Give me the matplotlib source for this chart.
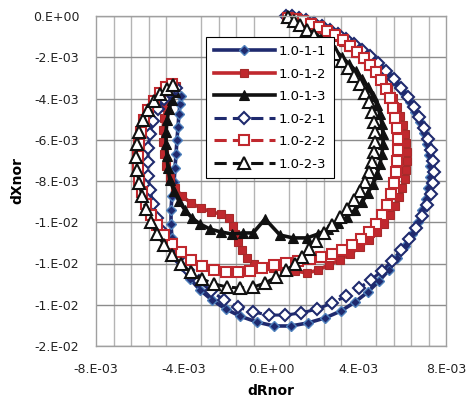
import matplotlib
matplotlib.use("Agg")
import matplotlib.pyplot as plt
import numpy as np

# ---------------- data (units of 1e-3) ----------------
labels = ["1.0-1-1", "1.0-1-2", "1.0-1-3", "1.0-2-1", "1.0-2-2", "1.0-2-3"]

x_111 = [0.64, 0.87, 1.14, 1.46, 1.78, 2.15, 2.51, 2.88, 3.25, 3.61, 3.98, 4.34, 4.71, 5.07, 5.44, 5.76,
         6.08, 6.35, 6.58, 6.81, 6.99, 7.13, 7.22, 7.27, 7.27, 7.18, 7.09, 6.90, 6.72, 6.45, 6.13, 5.76,
         5.39, 4.94, 4.43, 3.84, 3.20, 2.47, 1.69, 0.91, 0.14, -0.64, -1.42, -2.06, -2.70, -3.25, -3.70,
         -4.07, -4.34, -4.53, -4.57, -4.57, -4.53, -4.43, -4.39, -4.34, -4.30, -4.25, -4.21, -4.16, -4.11]
y_111 = [0.0, 0.0, -0.10, -0.19, -0.29, -0.44, -0.63, -0.82, -1.02, -1.26, -1.55, -1.84, -2.18, -2.52, -2.91, -3.30,
         -3.73, -4.17, -4.65, -5.14, -5.67, -6.21, -6.74, -7.27, -7.81, -8.34, -8.87, -9.41, -9.99, -10.57, -11.15, -11.73,
         -12.32, -12.85, -13.38, -13.87, -14.30, -14.64, -14.88, -15.03, -15.03, -14.84, -14.55, -14.21, -13.77, -13.28, -12.75,
         -12.12, -11.44, -10.76, -10.08, -9.41, -8.73, -8.05, -7.37, -6.69, -6.01, -5.38, -4.75, -4.27, -3.88]

x_112 = [0.78, 1.05, 1.37, 1.69, 2.01, 2.33, 2.65, 2.97, 3.29, 3.61, 3.93, 4.25, 4.57, 4.85, 5.12, 5.35,
         5.58, 5.76, 5.90, 6.03, 6.13, 6.17, 6.22, 6.22, 6.17, 6.13, 5.99, 5.85, 5.67, 5.44, 5.17, 4.85,
         4.48, 4.07, 3.61, 3.15, 2.65, 2.15, 1.65, 1.10, 0.59, 0.09, -0.41, -0.78, -1.10, -1.33, -1.51,
         -1.65, -1.74, -1.92, -2.29, -2.74, -3.20, -3.66, -4.07, -4.39, -4.62, -4.80, -4.89, -4.94, -4.94,
         -4.89, -4.80, -4.66, -4.48, -4.34]
y_112 = [0.0, -0.10, -0.19, -0.34, -0.48, -0.63, -0.82, -1.02, -1.26, -1.50, -1.79, -2.08, -2.42, -2.76, -3.15, -3.54,
         -3.98, -4.41, -4.85, -5.28, -5.72, -6.16, -6.59, -7.03, -7.47, -7.90, -8.34, -8.78, -9.21, -9.65, -10.08, -10.47,
         -10.86, -11.20, -11.54, -11.83, -12.07, -12.32, -12.46, -12.36, -12.27, -12.22, -12.17, -12.02, -11.73, -11.35, -10.96,
         -10.57, -10.18, -9.79, -9.60, -9.50, -9.31, -9.07, -8.73, -8.34, -7.85, -7.27, -6.69, -6.11, -5.53,
         -4.95, -4.41, -3.98, -3.64, -3.39]

x_113 = [0.73, 1.01, 1.33, 1.65, 1.97, 2.29, 2.61, 2.93, 3.25, 3.57, 3.89, 4.16, 4.43, 4.66, 4.85, 4.98,
         5.07, 5.12, 5.12, 5.07, 4.98, 4.85, 4.66, 4.43, 4.16, 3.84, 3.47, 3.06, 2.61, 2.15, 1.65, 1.01,
         0.41, -0.27, -0.82, -1.28, -1.78, -2.29, -2.79, -3.25, -3.61, -3.93, -4.21, -4.43, -4.62, -4.71,
         -4.75, -4.80, -4.80, -4.75, -4.66, -4.53, -4.39]
y_113 = [0.0, -0.15, -0.34, -0.58, -0.82, -1.07, -1.36, -1.65, -1.99, -2.33, -2.67, -3.05, -3.44, -3.88, -4.32, -4.75,
         -5.24, -5.72, -6.21, -6.69, -7.18, -7.66, -8.15, -8.58, -9.02, -9.41, -9.75, -10.04, -10.33, -10.57, -10.76, -10.76,
         -10.62, -9.84, -10.52, -10.52, -10.57, -10.47, -10.33, -10.08, -9.79, -9.41, -8.97, -8.48, -7.95, -7.37,
         -6.79, -6.21, -5.62, -5.04, -4.51, -4.07, -3.68]

x_121 = [0.69, 0.96, 1.28, 1.60, 1.97, 2.33, 2.70, 3.06, 3.43, 3.79, 4.16, 4.53, 4.89, 5.26, 5.62, 5.94,
         6.26, 6.54, 6.77, 6.99, 7.18, 7.31, 7.41, 7.45, 7.41, 7.31, 7.13, 6.90, 6.63, 6.31, 5.94, 5.53,
         5.07, 4.57, 4.02, 3.43, 2.79, 2.10, 1.37, 0.64, -0.09, -0.82, -1.51, -2.15, -2.74, -3.29, -3.79,
         -4.25, -4.62, -4.94, -5.21, -5.39, -5.53, -5.62, -5.62, -5.62, -5.53, -5.39, -5.17, -4.89, -4.62, -4.34]
y_121 = [0.0, 0.0, -0.10, -0.19, -0.34, -0.48, -0.68, -0.87, -1.12, -1.36, -1.65, -1.94, -2.28, -2.67, -3.05, -3.49,
         -3.93, -4.41, -4.90, -5.43, -5.96, -6.50, -7.03, -7.56, -8.10, -8.63, -9.16, -9.70, -10.28, -10.81, -11.35, -11.88,
         -12.36, -12.80, -13.19, -13.58, -13.92, -14.21, -14.40, -14.50, -14.50, -14.35, -14.11, -13.77, -13.33, -12.85, -12.32,
         -11.73, -11.10, -10.47, -9.79, -9.12, -8.44, -7.76, -7.08, -6.40, -5.72, -5.09, -4.51, -4.02, -3.68, -3.49]

x_122 = [0.78, 1.14, 1.46, 1.83, 2.19, 2.56, 2.93, 3.29, 3.61, 3.93, 4.25, 4.53, 4.80, 5.03, 5.26, 5.44,
         5.58, 5.67, 5.76, 5.81, 5.81, 5.76, 5.71, 5.62, 5.49, 5.30, 5.07, 4.80, 4.48, 4.11, 3.70, 3.25,
         2.79, 2.29, 1.78, 1.23, 0.69, 0.14, -0.41, -0.96, -1.51, -2.06, -2.61, -3.15, -3.66, -4.11, -4.53,
         -4.89, -5.21, -5.49, -5.71, -5.90, -6.03, -6.08, -6.08, -6.03, -5.94, -5.81, -5.62, -5.35, -5.07,
         -4.80, -4.53]
y_122 = [-0.10, -0.15, -0.24, -0.39, -0.53, -0.73, -0.92, -1.16, -1.45, -1.75, -2.04, -2.38, -2.72, -3.10, -3.54, -3.98,
         -4.46, -4.95, -5.43, -5.96, -6.50, -7.03, -7.56, -8.10, -8.63, -9.16, -9.65, -10.08, -10.47, -10.81, -11.10, -11.35,
         -11.54, -11.68, -11.78, -11.88, -11.98, -12.07, -12.22, -12.36, -12.41, -12.41, -12.32, -12.12, -11.83, -11.44, -11.05,
         -10.62, -10.13, -9.65, -9.12, -8.53, -7.95, -7.37, -6.79, -6.21, -5.62, -5.04, -4.56, -4.12, -3.73,
         -3.44, -3.30]

x_123 = [0.78, 1.05, 1.33, 1.65, 1.97, 2.29, 2.61, 2.93, 3.25, 3.52, 3.79, 4.07, 4.30, 4.48, 4.62, 4.71,
         4.75, 4.75, 4.71, 4.62, 4.48, 4.30, 4.07, 3.79, 3.47, 3.15, 2.79, 2.42, 2.06, 1.74, 1.42, 1.10,
         0.69, 0.23, -0.27, -0.82, -1.42, -2.01, -2.61, -3.15, -3.66, -4.11, -4.53, -4.89, -5.21, -5.49,
         -5.71, -5.90, -6.03, -6.12, -6.17, -6.12, -6.03, -5.85, -5.62, -5.35, -5.07, -4.75, -4.48]
y_123 = [-0.05, -0.24, -0.44, -0.68, -0.92, -1.21, -1.50, -1.84, -2.18, -2.52, -2.91, -3.30, -3.73, -4.17, -4.65, -5.14,
         -5.62, -6.11, -6.59, -7.08, -7.56, -8.05, -8.48, -8.92, -9.36, -9.75, -10.13, -10.52, -10.91, -11.30, -11.68, -12.02,
         -12.32, -12.65, -12.95, -13.14, -13.19, -13.14, -12.99, -12.75, -12.41, -12.02, -11.59, -11.10, -10.57, -9.99,
         -9.36, -8.73, -8.10, -7.47, -6.84, -6.21, -5.62, -5.04, -4.56, -4.12, -3.78, -3.54, -3.35]

xticks = [-8, -4, 0, 4, 8]
xtick_labels = ["-8.E-03", "-4.E-03", "0.E+00", "4.E-03", "8.E-03"]
yticks = [0, -2, -4, -6, -8, -10, -12, -14, -16]
ytick_labels = ["0.E+00", "-2.E-03", "-4.E-03", "-6.E-03", "-8.E-03", "-1.E-02", "-1.E-02", "-1.E-02", "-2.E-02"]
xgrid_step = 0.8
xlabel = "dRnor"
ylabel = "dXnor"

# ---------------- plotting ----------------
plt.rcParams['font.family'] = ['DejaVu Sans']
scale = 1e-3
fig = plt.figure(figsize=(4.69, 4.07), dpi=100)
ax = fig.add_axes([96/469, 1-346/407, 350/469, 330/407])

navy = '#1F2A6E'
lblue = '#4F81BD'
red = '#C0282E'
black = '#111111'
dash = (0, (4, 2))

series = [
    (x_111, y_111, dict(color=navy, lw=2.6, ls='-', marker='D', ms=5.2, mfc=navy, mec=lblue, mew=1.0)),
    (x_112, y_112, dict(color=red, lw=2.6, ls='-', marker='s', ms=5.8, mfc=red, mec='#A52A2A', mew=0.8)),
    (x_113, y_113, dict(color=black, lw=2.6, ls='-', marker='^', ms=6.5, mfc=black, mec=black, mew=0.8)),
    (x_121, y_121, dict(color=navy, lw=2.2, ls=dash, marker='D', ms=6.0, mfc='white', mec=navy, mew=1.5)),
    (x_122, y_122, dict(color=red, lw=2.2, ls=dash, marker='s', ms=7.5, mfc='white', mec=red, mew=1.5)),
    (x_123, y_123, dict(color=black, lw=2.2, ls=dash, marker='^', ms=8.0, mfc='white', mec=black, mew=1.5)),
]
for (xs, ys, st), lab in zip(series, labels):
    ax.plot(np.array(xs) * scale, np.array(ys) * scale, label=lab, clip_on=False, **st)

ax.set_xlim(-8 * scale, 8 * scale)
ax.set_ylim(-16 * scale, 0)
ax.set_xticks(np.array(xticks) * scale)
ax.set_xticklabels(xtick_labels)
ax.set_yticks(np.array(yticks) * scale)
ax.set_yticklabels(ytick_labels)
ax.set_xticks(np.arange(-8, 8.01, xgrid_step) * scale, minor=True)
ax.tick_params(axis='both', which='both', length=0, labelsize=9, colors='#222222')
ax.tick_params(axis='x', pad=12)
ax.tick_params(axis='y', pad=12)
ax.grid(True, axis='y', which='major', color='#8C8C8C', lw=1.0)
ax.grid(True, axis='x', which='minor', color='#B4B4B4', lw=1.0)
ax.set_axisbelow(True)
for s in ax.spines.values():
    s.set_color('#A0A0A0')
    s.set_linewidth(1.0)

ax.set_xlabel(xlabel, fontsize=10, fontweight='bold', labelpad=6)
ax.set_ylabel(ylabel, fontsize=10, fontweight='bold', labelpad=6)

leg = ax.legend(loc='upper left', bbox_to_anchor=(0.314, 0.936), fontsize=9.5,
                frameon=True, fancybox=False, edgecolor='black', framealpha=1,
                handlelength=4.6, labelspacing=0.72, borderpad=0.6, handletextpad=0.3,
                borderaxespad=0)
leg.get_frame().set_linewidth(0.8)
leg.set_zorder(5)

fig.savefig('out.png', dpi=100)
